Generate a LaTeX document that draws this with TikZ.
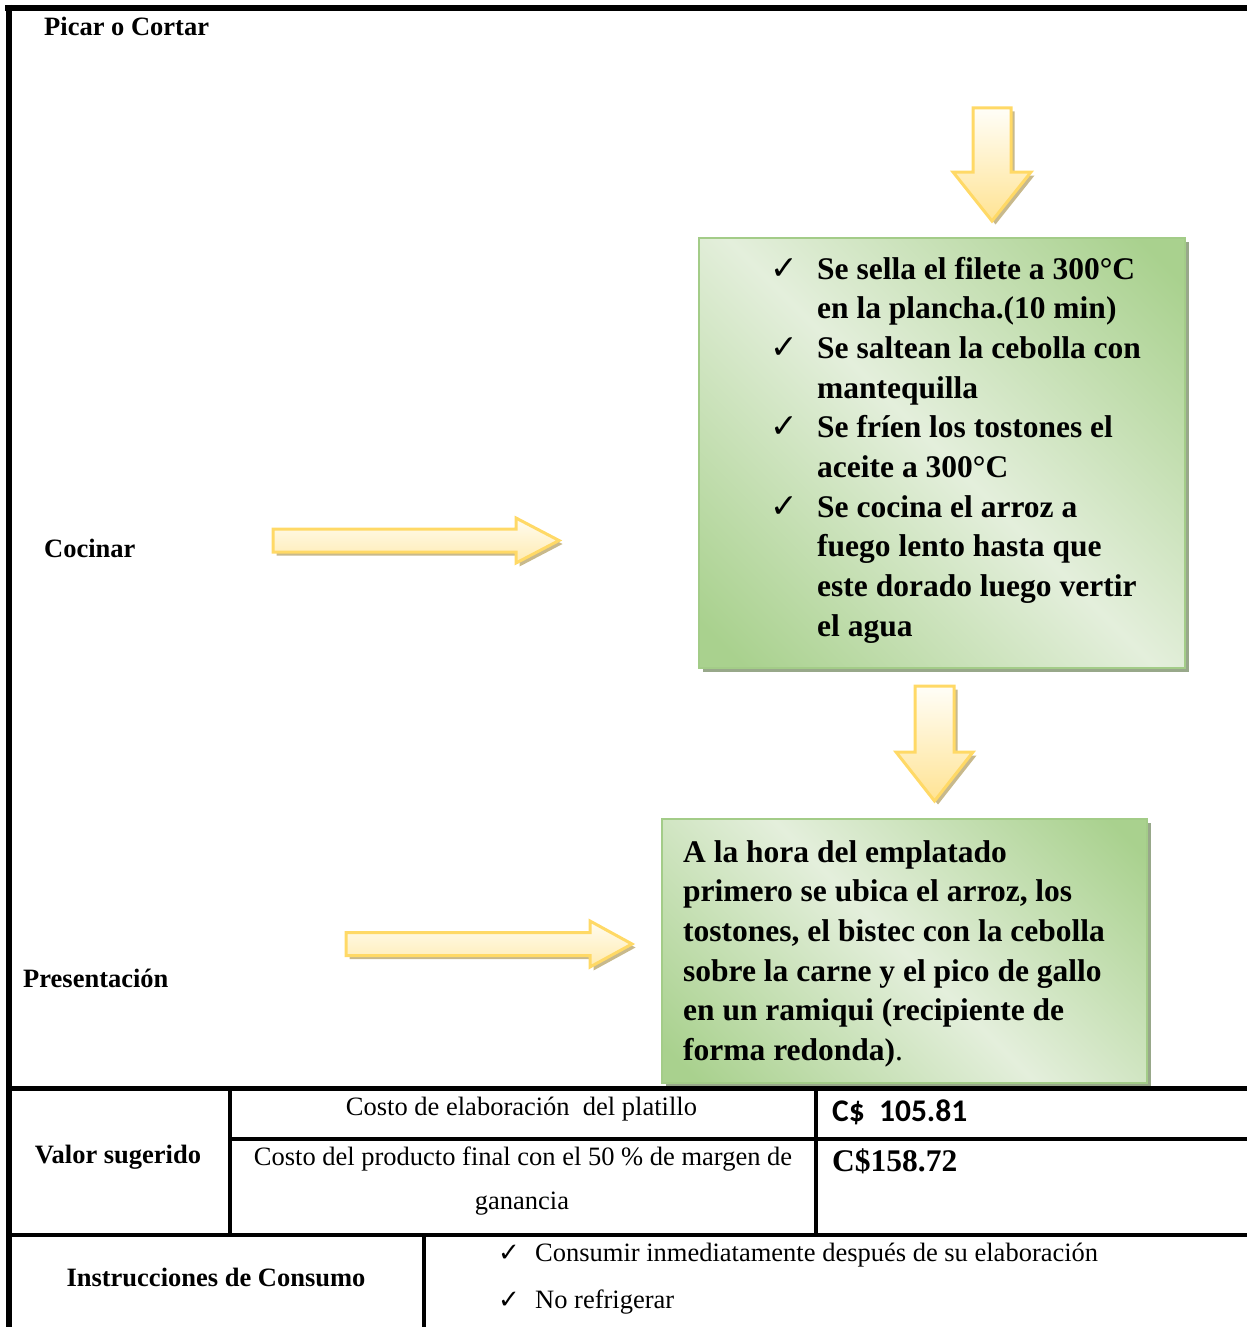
\documentclass[tikz,border=0pt]{standalone}
\usepackage{fontspec}
\setmainfont{Liberation Serif}
\newfontfamily\calfont{Carlito}
\newfontfamily\symfont{DejaVu Sans}
\usetikzlibrary{shadows}

\definecolor{gdark}{HTML}{A9D18E}
\definecolor{glight}{HTML}{E4EFDC}
\definecolor{gedge}{HTML}{A3CC88}
\definecolor{gshadow}{HTML}{98A88A}
\definecolor{yedge}{HTML}{FFD966}
\definecolor{ytop}{HTML}{FFFEF8}
\definecolor{ybottom}{HTML}{FFE393}
\definecolor{yrtop}{HTML}{FFFCF0}
\definecolor{yrbottom}{HTML}{FFEBB0}
\definecolor{yshadow}{HTML}{C8B98C}

% light band along one diagonal, green towards the other two corners
\pgfdeclarehorizontalshading{greendiag}{100bp}{color(0bp)=(gdark); color(18bp)=(gdark); color(50bp)=(glight); color(82bp)=(gdark); color(100bp)=(gdark)}

\newcommand\bigcheck{\makebox[47pt][l]{\symfont\fontsize{33}{33}\selectfont ✓}}
\newcommand\biggap{\hspace*{47pt}}
\newcommand\smallcheck{\makebox[37pt][l]{\symfont\fontsize{26}{26}\selectfont ✓}}

\begin{document}
\begin{tikzpicture}[x=1pt,y=-1pt,
  heavy/.style={line width=6pt},
  rule/.style={line width=4pt},
  head/.style={font=\fontsize{26.5}{30}\selectfont\bfseries, inner sep=0pt},
  cell/.style={font=\fontsize{26.5}{30}\selectfont, inner sep=0pt},
  stepfont/.style={font=\fontsize{31.5}{39.7}\selectfont\bfseries, inner sep=0pt},
  gbox/.style={draw=gedge, line width=2.5pt, shade, shading=greendiag, shading angle=45,
    general shadow={fill=gshadow, shadow xshift=4pt, shadow yshift=-4pt}, inner sep=0pt},
  yblock/.style={draw=yedge, line width=3pt, line join=miter,
    general shadow={fill=yshadow, shadow xshift=3.5pt, shadow yshift=-3.5pt}},
  ydown/.style={yblock, top color=ytop, bottom color=ybottom},
  yright/.style={yblock, top color=yrtop, bottom color=yrbottom}]

\useasboundingbox (0,0) rectangle (1247,1327);

% ---- outer frame of the process section
\draw[heavy] (8.5,5) -- (8.5,1327);
\draw[heavy] (5,8) -- (1247,8);

% ---- section labels
\node[head, anchor=base west] (picar) at (44,36) {Picar o Cortar};
\node[head, anchor=base west] (cocinar) at (44,557) {Cocinar};
\node[head, anchor=base west] (present) at (23,987) {Presentación};

% ---- block arrows
\path[ydown] (973,108) -- (1011,108) -- (1011,172) -- (1031,172) -- (992,221)
  -- (953,172) -- (973,172) -- cycle;
\path[yright] (273,529) -- (516,529) -- (516,518) -- (559,540.5) -- (516,563)
  -- (516,552) -- (273,552) -- cycle;
\path[ydown] (915,686) -- (954,686) -- (954,752) -- (973,752) -- (934.5,801)
  -- (896,752) -- (915,752) -- cycle;
\path[yright] (346,932.5) -- (590,932.5) -- (590,921) -- (632,944) -- (590,967)
  -- (590,955.5) -- (346,955.5) -- cycle;

% ---- cooking steps
\node[gbox, minimum width=486pt, minimum height=430pt] (cook) at (942,453) {};
\node[stepfont, anchor=base west] (cooktext) at (770,279) {%
  \begin{tabular}[t]{@{}l@{}}
  \bigcheck Se sella el filete a 300°C\\
  \biggap en la plancha.(10 min)\\
  \bigcheck Se saltean la cebolla con\\
  \biggap mantequilla\\
  \bigcheck Se fríen los tostones el\\
  \biggap aceite a 300°C\\
  \bigcheck Se cocina el arroz a\\
  \biggap fuego lento hasta que\\
  \biggap este dorado luego vertir\\
  \biggap el agua
  \end{tabular}};

% ---- plating
\node[gbox, minimum width=485pt, minimum height=264pt] (plate) at (904.5,951) {};
\node[stepfont, anchor=base west] (platetext) at (683,862) {%
  \begin{tabular}[t]{@{}l@{}}
  A la hora del emplatado\\
  primero se ubica el arroz, los\\
  tostones, el bistec con la cebolla\\
  sobre la carne y el pico de gallo\\
  en un ramiqui (recipiente de\\
  forma redonda){\mdseries.}
  \end{tabular}};

% ---- cost table
\draw[line width=5pt] (6,1088.5) -- (1247,1088.5);
\draw[rule] (230,1088.5) -- (230,1235);
\draw[rule] (816,1088.5) -- (816,1235);
\draw[rule] (230,1139) -- (1247,1139);
\draw[rule] (6,1235) -- (1247,1235);
\draw[rule] (424,1235) -- (424,1327);

\node[head, anchor=base] (valor) at (118,1163) {Valor sugerido};
\node[cell, anchor=base] (costo1) at (521.5,1115) {Costo de elaboración \ del platillo};
\node[cell, anchor=base] (costo2) at (523,1165) {Costo del producto final con el 50 \% de margen de};
\node[cell, anchor=base] (costo3) at (522,1209) {ganancia};
\node[inner sep=0pt, anchor=base west, font=\calfont\fontsize{31.5}{34}\selectfont\bfseries] (precio1) at (832,1121) {C\$~ 105.81};
\node[inner sep=0pt, anchor=base west, font=\fontsize{31.5}{34}\selectfont\bfseries] (precio2) at (832,1171) {C\$158.72};

\node[head, anchor=base] (instr) at (216,1286) {Instrucciones de Consumo};
\node[cell, anchor=base west] (inst1) at (498,1261) {\smallcheck Consumir inmediatamente después de su elaboración};
\node[cell, anchor=base west] (inst2) at (498,1308) {\smallcheck No refrigerar};
\end{tikzpicture}
\end{document}
